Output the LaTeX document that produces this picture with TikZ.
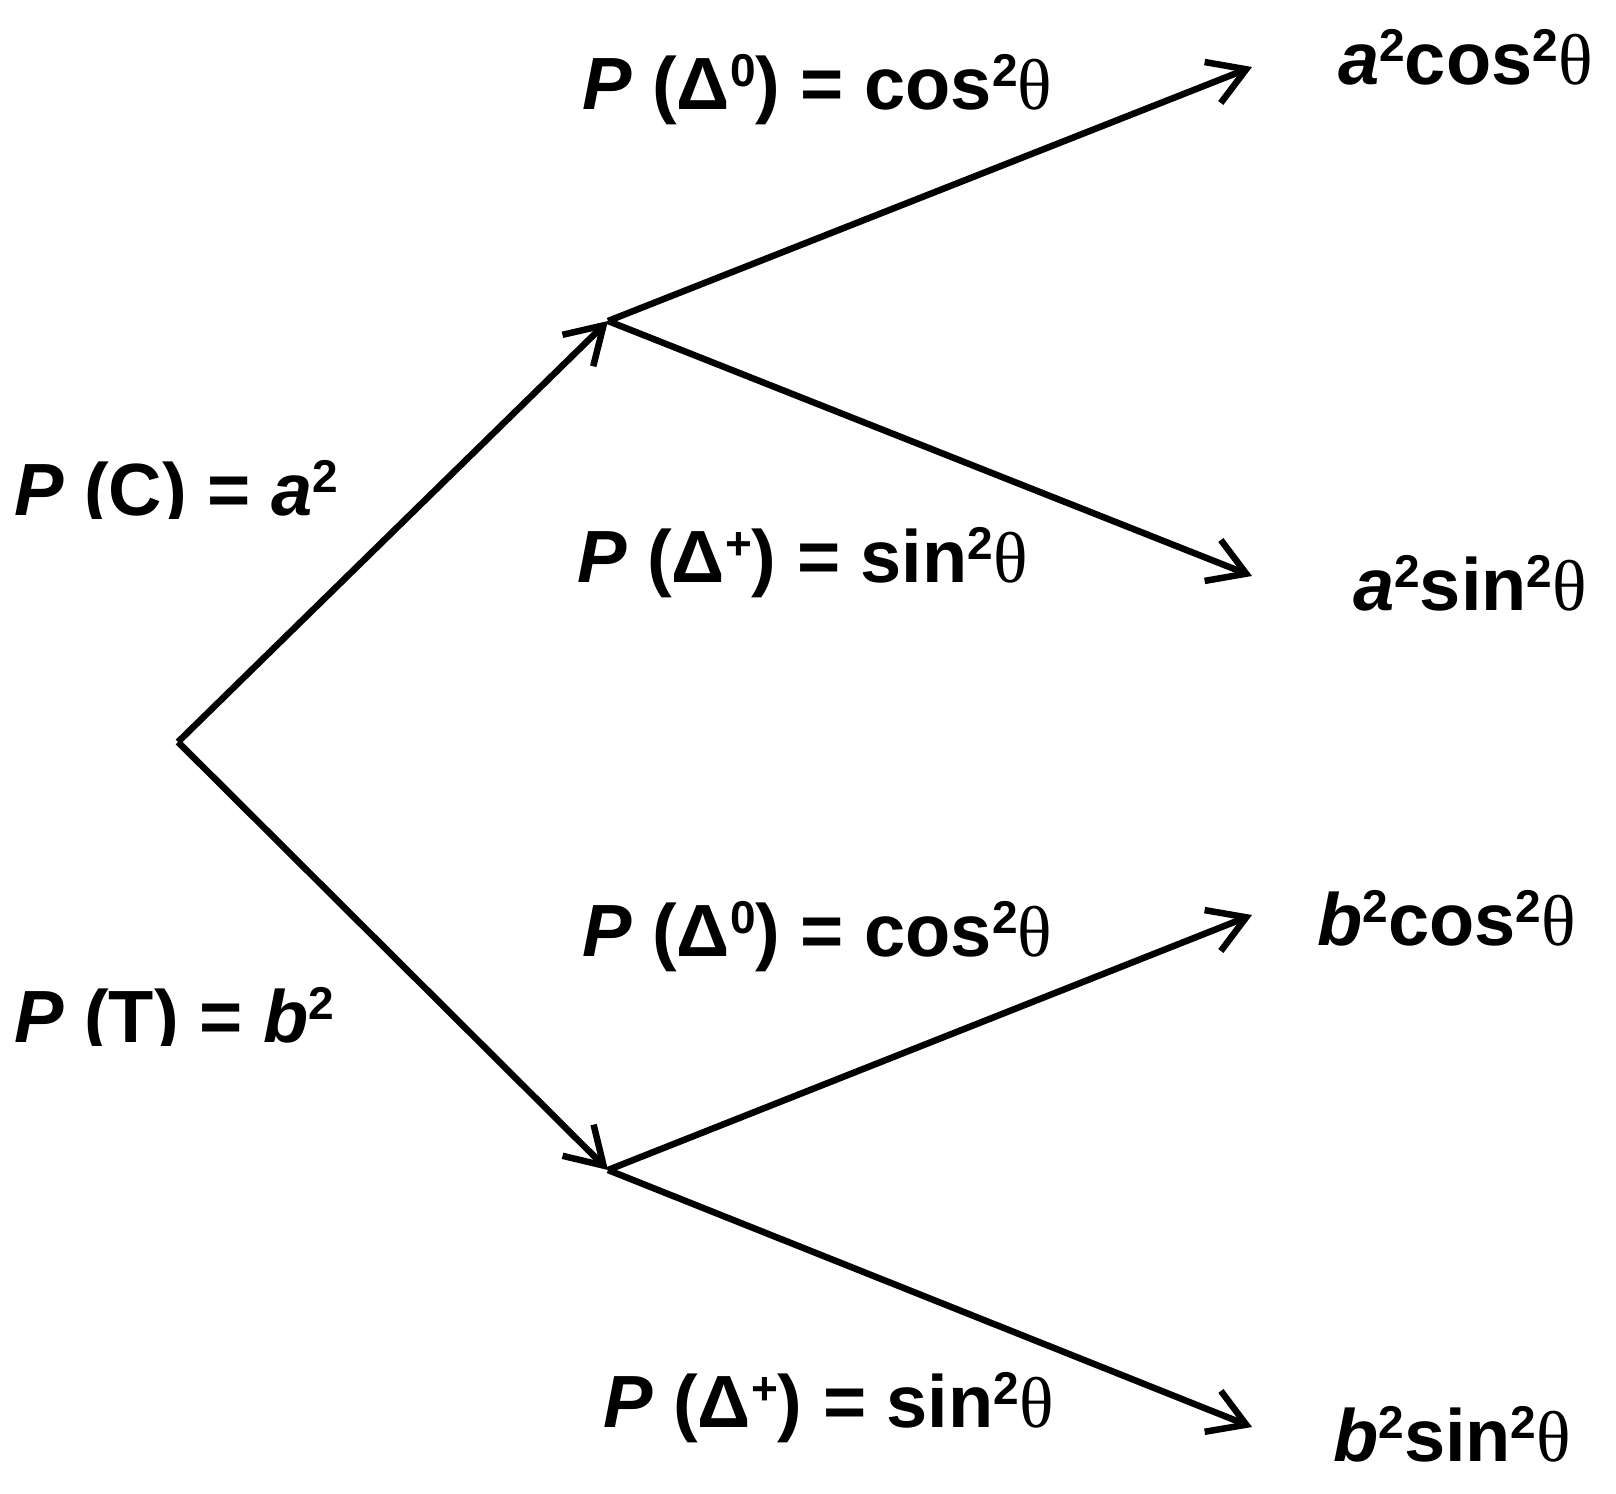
\documentclass[tikz,border=0pt]{standalone}
\usepackage{fontspec}
\setmainfont{Liberation Sans}
\newfontfamily\thfont{Liberation Serif}
\usetikzlibrary{arrows.meta}
\newcommand\sq[1]{\raisebox{23pt}{\fontsize{46}{46}\selectfont #1}}
\newcommand\thet{{\thfont\mdseries\fontsize{72}{80}\selectfont θ}}
\begin{document}
\begin{tikzpicture}[x=1pt,y=-1pt,
  lbl/.style={anchor=base west, inner sep=0pt, font=\fontsize{74}{80}\selectfont\bfseries},
  br/.style={line width=6.5pt, -{Straight Barb[length=36pt,width=44pt,line width=6.5pt]}}]
\path[use as bounding box] (0,0) rectangle (1616,1493);
\coordinate (r) at (178,742);
\coordinate (u) at (608,321);
\coordinate (l) at (608,1170);
\coordinate (e1) at (1252,67);
\coordinate (e2) at (1252,576);
\coordinate (e3) at (1252,915);
\coordinate (e4) at (1252,1427);
\draw[br] (r) -- (u);
\draw[br] (r) -- (l);
\draw[br] (u) -- (e1);
\draw[br] (u) -- (e2);
\draw[br] (l) -- (e3);
\draw[br] (l) -- (e4);
\begin{scope}
\clip (0,0) rectangle (420,518);
\node[lbl] (pc) at (14,515) {\textit{P} (C) = \textit{a}\sq{2}};
\end{scope}
\begin{scope}
\clip (0,760) rectangle (420,1045);
\node[lbl] (pt) at (14,1042) {\textit{P} (T) = \textit{b}\sq{2}};
\end{scope}
\node[lbl] (d1) at (582,110) {\textit{P} (Δ\sq{0}) = cos\sq{2}\thet};
\node[lbl] (d2) at (577,582) {\textit{P} (Δ\sq{+}) = sin\sq{2}\thet};
\node[lbl] (d3) at (582,956) {\textit{P} (Δ\sq{0}) = cos\sq{2}\thet};
\node[lbl] (d4) at (603,1427) {\textit{P} (Δ\sq{+}) = sin\sq{2}\thet};
\node[lbl] (t1) at (1338,85) {\textit{a}\sq{2}cos\sq{2}\thet};
\node[lbl] (t2) at (1353,610) {\textit{a}\sq{2}sin\sq{2}\thet};
\node[lbl] (t3) at (1317,945) {\textit{b}\sq{2}cos\sq{2}\thet};
\node[lbl] (t4) at (1333,1461) {\textit{b}\sq{2}sin\sq{2}\thet};
\end{tikzpicture}
\end{document}
